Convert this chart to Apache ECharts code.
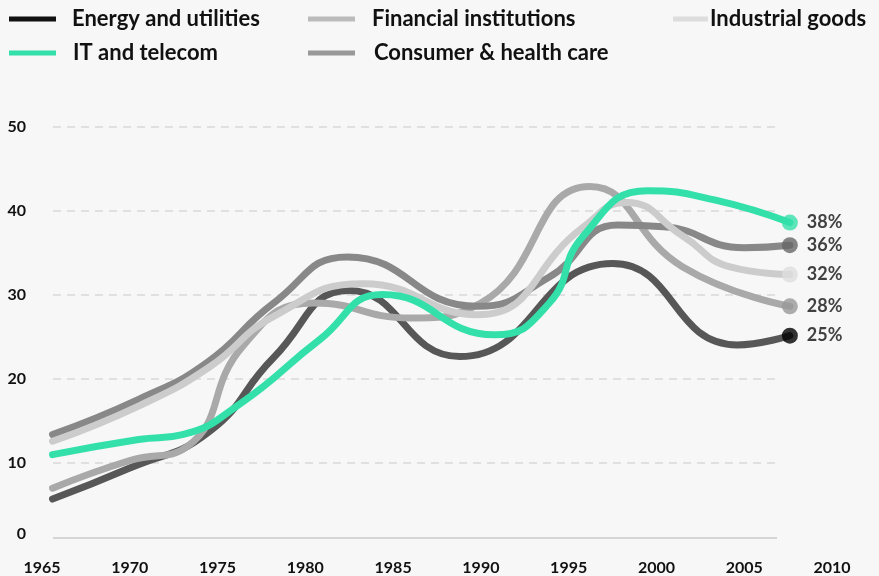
<!DOCTYPE html>
<html>
<head>
<meta charset="utf-8">
<script src="https://cdn.jsdelivr.net/npm/echarts@6/dist/echarts.min.js"></script>
<style>
  html, body { margin: 0; padding: 0; background: #f7f7f7; }
  #chart { width: 879px; height: 576px; }
</style>
</head>
<body>
<div id="chart"></div>
<script>
 var names = ['Energy and utilities', 'Financial institutions', 'Industrial goods', 'IT and telecom', 'Consumer & health care'];
 // [year, share %]
 var energy = [[1965.6,5.6],[1970,9.3],[1974.5,13.6],[1978.2,22.5],[1982.5,30.5],[1988.8,22.6],[1997.5,33.7],[2004.6,24],[2007.6,25.1]];
 var financial = [[1965.6,6.9],[1970,10.2],[1973.3,11.9],[1976.5,24],[1980.5,29],[1986,27.2],[1990,29],[1996.2,42.9],[2001.5,33.3],[2007.6,28.6]];
 var industrial = [[1965.6,12.5],[1970.5,16.7],[1974.5,21.3],[1978.2,27.4],[1983.3,31.3],[1989.8,27.6],[1995.8,38],[1998.3,41],[2001.5,37],[2004.2,33.3],[2007.6,32.4]];
 var it = [[1965.6,10.9],[1970.5,12.7],[1973,13.3],[1976.3,17],[1980.8,24.6],[1984.4,30],[1990.8,25.2],[1993.9,29],[1995.8,36.9],[1999.5,42.4],[2003.3,41.3],[2007.6,38.6]];
 var consumer = [[1965.6,13.3],[1970.5,17.5],[1974.4,21.9],[1978.2,29],[1982.4,34.5],[1989.8,28.6],[1993.9,32.1],[1997.8,38.3],[2000.4,38.1],[2005,35.6],[2007.6,35.9]];
 var endShares = [25, 28, 32, 38, 36];
 var yTicks = [0, 10, 20, 30, 40, 50];
 var xTicks = [1965, 1970, 1975, 1980, 1985, 1990, 1995, 2000, 2005, 2010];
 var baseLevel = 1.07; // the solid base rule sits a little above 0

 var font = 'Lato';
 var lineColors = ['#575757', '#a9a9a9', '#cccccc', '#33e0a9', '#888888'];
 var legendColors = ['#111111', '#bbbbbb', '#dddddd', '#33e0a9', '#999999'];
 var dotColors = ['#000000', '#999999', '#dddddd', '#33e0a9', '#666666'];
 var allData = [energy, financial, industrial, it, consumer];

 function makeLegend(i, left, top, gap) {
   return {
     data: [{ name: names[i], icon: 'rect', itemStyle: { color: legendColors[i] } }],
     left: left, top: top, padding: 0,
     itemWidth: i == 2 ? 35 : 47, itemHeight: 5,
     selectedMode: false,
     textStyle: { fontFamily: font, fontWeight: 'bold', fontSize: 22, lineHeight: 26, color: '#111', padding: [0, 0, 0, gap] }
   };
 }

 function makeOption() {
   var series = [];
   // base rule across the plot
   series.push({
     name: 'base', type: 'line', xAxisIndex: 0, yAxisIndex: 0, z: 1, silent: true,
     data: [[0, baseLevel], [1, baseLevel]], showSymbol: false,
     lineStyle: { color: '#d6d6d6', width: 2 }
   });
   var order = [0, 1, 4, 2, 3];
   order.forEach(function (i) {
     series.push({
       name: names[i], type: 'line', xAxisIndex: 1, yAxisIndex: 1,
       data: allData[i], smooth: 0.5, showSymbol: false,
       lineStyle: { color: lineColors[i], width: 7, cap: 'round' },
       itemStyle: { color: lineColors[i] }
     });
   });
   var ends = allData.map(function (d, i) {
     return { value: d[d.length - 1], share: endShares[i], itemStyle: { color: dotColors[i] } };
   });
   series.push({
     name: 'end', type: 'scatter', xAxisIndex: 1, yAxisIndex: 1, z: 5,
     symbolSize: 16, data: ends,
     label: {
       show: true, position: 'right', distance: 9,
       fontFamily: font, fontWeight: 'bold', fontSize: 18, color: '#111',
       formatter: function (p) { return p.data.share + '%'; }
     }
   });

   var option = {
     backgroundColor: '#f7f7f7',
     animation: false,
     legend: [
       makeLegend(0, 9, 6, 11),
       makeLegend(1, 308, 6, 12),
       makeLegend(2, 673, 6, -3),
       makeLegend(3, 9, 40, 12),
       makeLegend(4, 308, 40, 14)
     ],
     grid: [
       { left: 53, right: 102, top: 127, bottom: 29 },
       { left: 42, right: 47, top: 127, bottom: 29 }
     ],
     xAxis: [
       { gridIndex: 0, type: 'value', min: 0, max: 1, show: false },
       { gridIndex: 1, type: 'value', min: xTicks[0], max: xTicks[xTicks.length - 1], interval: 5,
         axisLine: { show: false }, axisTick: { show: false }, splitLine: { show: false },
         axisLabel: { margin: 14, showMinLabel: true, showMaxLabel: true,
           fontFamily: font, fontWeight: 'bold', fontSize: 16, color: '#111',
           formatter: function (v) { return String(v); } } }
     ],
     yAxis: [
       { gridIndex: 0, type: 'value', min: yTicks[0], max: yTicks[yTicks.length - 1], interval: 10,
         axisLine: { show: false }, axisTick: { show: false },
         axisLabel: {
           margin: 27, fontFamily: font, fontWeight: 'bold', fontSize: 16, color: '#111',
           formatter: function (v) { return v === 0 ? '{z|0}' : String(v); },
           rich: { z: { padding: [0, 0, 27, 0], fontFamily: font, fontWeight: 'bold', fontSize: 16, color: '#111' } }
         },
         splitLine: { lineStyle: { color: ['rgba(0,0,0,0)', '#e0e0e0', '#e0e0e0', '#e0e0e0', '#e0e0e0', '#e0e0e0'], type: [8, 6], width: 2 } } },
       { gridIndex: 1, type: 'value', min: yTicks[0], max: yTicks[yTicks.length - 1], show: false }
     ],
     series: series
   };
   return option;
 }

 var myChart = echarts.init(document.getElementById('chart'));
 myChart.setOption(makeOption());
</script>
</body>
</html>
